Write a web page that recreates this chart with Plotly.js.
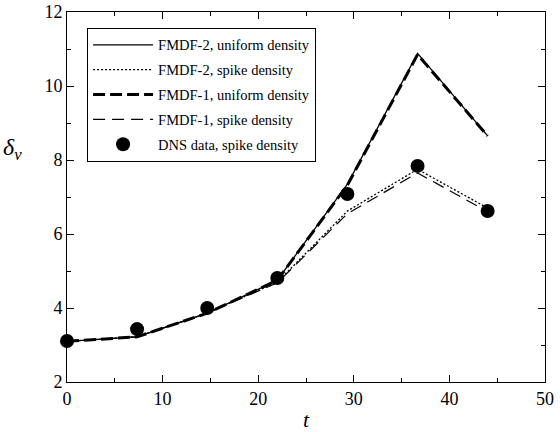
<!DOCTYPE html>
<html>
<head>
<meta charset="utf-8">
<script src="https://cdn.plot.ly/plotly-3.0.1.min.js"></script>
<style>html,body{margin:0;padding:0;background:#fff;}#chart{width:560px;height:432px;}</style>
</head>
<body>
<div id="chart"></div>
<script>
var t = [0, 7.33, 14.67, 22, 29.33, 36.67, 44];
var fmdf2Uniform = [3.1, 3.22, 3.86, 4.75, 7.35, 10.88, 8.65];
var fmdf2Spike   = [3.1, 3.22, 3.86, 4.7, 6.62, 7.75, 6.7];
var fmdf1Uniform = [3.1, 3.22, 3.86, 4.75, 7.32, 10.85, 8.65];
var fmdf1Spike   = [3.1, 3.22, 3.86, 4.68, 6.55, 7.65, 6.6];
var dnsSpike     = [3.11, 3.43, 4.0, 4.81, 7.08, 7.84, 6.62];
var seriesNames = ["FMDF-2, uniform density", "FMDF-2, spike density", "FMDF-1, uniform density", "FMDF-1, spike density", "DNS data, spike density"];
var xTicks = [0, 10, 20, 30, 40, 50];
var yTicks = [2, 4, 6, 8, 10, 12];

var serif = "Liberation Serif, Times New Roman, serif";
var traces = [
  {x: t, y: fmdf2Uniform, name: seriesNames[0], legendgroup: "a", mode: "lines", line: {color: "#000", width: 1.3}},
  {x: t, y: fmdf2Spike, name: seriesNames[1], legendgroup: "b", mode: "lines", line: {color: "#000", width: 1.3, dash: "2px,2px"}},
  {x: t, y: fmdf1Uniform, name: seriesNames[2], legendgroup: "c", mode: "lines", line: {color: "#000", width: 3, dash: "12px,5px"}},
  {x: t, y: fmdf1Spike, name: seriesNames[3], legendgroup: "d", mode: "lines", line: {color: "#000", width: 1.2, dash: "12px,7px"}},
  {x: t, y: dnsSpike, name: seriesNames[4], legendgroup: "e", mode: "markers", marker: {color: "#000", size: 14, symbol: "circle"}, cliponaxis: false}
];
var axisCommon = {
  showgrid: false, zeroline: false, showline: true, linecolor: "#000", linewidth: 1,
  mirror: "allticks", ticks: "inside", ticklen: 7, tickwidth: 1, tickcolor: "#000",
  tickfont: {family: serif, size: 18, color: "#000"}
};
var layout = {
  width: 560, height: 432,
  margin: {l: 67, r: 15, t: 12, b: 50},
  paper_bgcolor: "#fff", plot_bgcolor: "#fff",
  showlegend: true,
  legend: {
    x: 0.042, y: 0.957, xanchor: "left", yanchor: "top",
    bgcolor: "#fff", bordercolor: "#000", borderwidth: 1,
    font: {family: serif, size: 14.5, color: "#000"},
    tracegroupgap: 3, itemwidth: 60
  },
  xaxis: Object.assign({}, axisCommon, {
    range: [0, 50], tickvals: xTicks, ticktext: xTicks.map(String),
    minor: {dtick: 5, tick0: 0, ticks: "inside", ticklen: 4, tickcolor: "#000"},
    title: {text: "<i>t</i>", font: {family: serif, size: 22, color: "#000"}, standoff: 4}
  }),
  yaxis: Object.assign({}, axisCommon, {
    range: [2, 12], tickvals: yTicks, ticktext: yTicks.map(String),
    minor: {dtick: 1, tick0: 0, ticks: "inside", ticklen: 4, tickcolor: "#000"}
  }),
  annotations: [{
    xref: "paper", yref: "paper", x: -0.115, y: 0.63, xanchor: "center", yanchor: "middle",
    text: "<i>δ<sub>v</sub></i>", showarrow: false,
    font: {family: serif, size: 24, color: "#000"}
  }]
};
Plotly.newPlot("chart", traces, layout, {displayModeBar: false, staticPlot: true});
</script>
</body>
</html>
